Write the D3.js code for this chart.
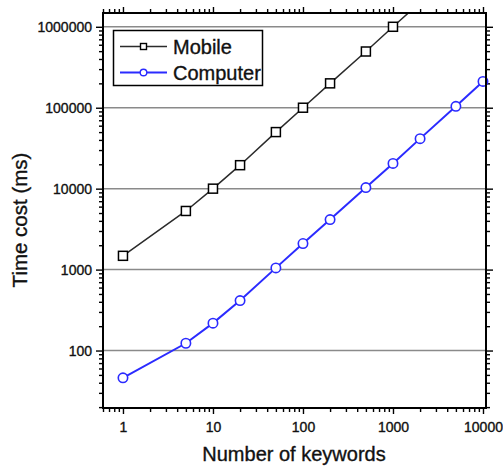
<!DOCTYPE html>
<html>
<head>
<meta charset="utf-8">
<script src="https://cdn.jsdelivr.net/npm/d3@7"></script>
<style>
  html, body { margin: 0; padding: 0; background: #fff; }
  svg { display: block; font-family: "Liberation Sans", Arial, sans-serif; }
  svg text { stroke: #111; stroke-width: 0.35px; paint-order: stroke; }
</style>
</head>
<body>
<svg id="chart" width="503" height="469"></svg>
<script>
// Number of keywords on the x axis
const keywords = [1, 5, 10, 20, 50, 100, 200, 500, 1000, 2000, 5000, 10000];
// Time cost (ms) per platform
const mobileTime = [1480, 5300, 10000, 19500, 50000, 100000, 200000, 495000, 1000000, 2000000, 5000000, 10000000];
const computerTime = [46, 123, 218, 414, 1050, 2100, 4150, 10300, 20500, 41500, 104000, 211000];
const seriesNames = ["Mobile", "Computer"];
const xTickLabels = ["1", "10", "100", "1000", "10000"];
const yTickLabels = ["100", "1000", "10000", "100000", "1000000"];

const svg = d3.select("#chart");
const plotL = 103, plotR = 486, plotT = 13, plotB = 408;

const x = d3.scaleLog().domain([0.6, 10800]).range([plotL, plotR]);
const y = d3.scaleLog().domain([19.5, 1.48e6]).range([plotB, plotT]);

const xMajor = xTickLabels.map(Number);
const yMajor = yTickLabels.map(Number);
function minors(scale) {
  const [a, b] = scale.domain();
  const out = [];
  for (let e = Math.floor(Math.log10(a)); e <= Math.ceil(Math.log10(b)); e++) {
    for (let d = 2; d <= 9; d++) {
      const v = d * Math.pow(10, e);
      if (v >= a && v <= b) out.push(v);
    }
  }
  return out;
}
const xMinor = minors(x);
const yMinor = minors(y);

// horizontal grid lines at each decade
svg.append("g").selectAll("line").data(yMajor).join("line")
  .attr("x1", plotL).attr("x2", plotR)
  .attr("y1", d => y(d)).attr("y2", d => y(d))
  .attr("stroke", "#8a8a8a").attr("stroke-width", 1.5);

function styleAxis(g) {
  g.select(".domain").remove();
  g.selectAll(".tick line").attr("stroke", "#000").attr("stroke-width", 1.4);
  g.selectAll(".tick text").attr("fill", "#111").style("font-size", "14px")
    .style("font-family", "'Liberation Sans', Arial, sans-serif");
}

// bottom axis
svg.append("g").attr("transform", `translate(0,${plotB})`)
  .call(d3.axisBottom(x).tickValues(xMajor).tickSize(6).tickPadding(8)
    .tickFormat((d, i) => xTickLabels[i]))
  .call(styleAxis);
svg.append("g").attr("transform", `translate(0,${plotB})`)
  .call(d3.axisBottom(x).tickValues(xMinor).tickSize(4).tickFormat(""))
  .call(styleAxis);
// top axis
svg.append("g").attr("transform", `translate(0,${plotT})`)
  .call(d3.axisTop(x).tickValues(xMajor).tickSize(6).tickFormat(""))
  .call(styleAxis);
svg.append("g").attr("transform", `translate(0,${plotT})`)
  .call(d3.axisTop(x).tickValues(xMinor).tickSize(4).tickFormat(""))
  .call(styleAxis);
// left axis
svg.append("g").attr("transform", `translate(${plotL},0)`)
  .call(d3.axisLeft(y).tickValues(yMajor).tickSize(7).tickPadding(4)
    .tickFormat((d, i) => yTickLabels[i]))
  .call(styleAxis);
svg.append("g").attr("transform", `translate(${plotL},0)`)
  .call(d3.axisLeft(y).tickValues(yMinor).tickSize(4).tickFormat(""))
  .call(styleAxis);
// right axis
svg.append("g").attr("transform", `translate(${plotR},0)`)
  .call(d3.axisRight(y).tickValues(yMajor).tickSize(7).tickFormat(""))
  .call(styleAxis);
svg.append("g").attr("transform", `translate(${plotR},0)`)
  .call(d3.axisRight(y).tickValues(yMinor).tickSize(4).tickFormat(""))
  .call(styleAxis);

// clip the lines to the plotting area
svg.append("clipPath").attr("id", "plot-clip")
  .append("rect").attr("x", plotL).attr("y", plotT)
  .attr("width", plotR - plotL).attr("height", plotB - plotT);

const line = d3.line().x(d => x(d[0])).y(d => y(d[1]));
const mobile = keywords.map((k, i) => [k, mobileTime[i]]);
const computer = keywords.map((k, i) => [k, computerTime[i]]);
const inside = d => d[1] <= y.domain()[1] && d[1] >= y.domain()[0];

const mobileColor = "#2b2b2b", computerColor = "#2b2bff";

svg.append("path").datum(mobile).attr("clip-path", "url(#plot-clip)")
  .attr("d", line).attr("fill", "none")
  .attr("stroke", mobileColor).attr("stroke-width", 1.5);
svg.append("path").datum(computer).attr("clip-path", "url(#plot-clip)")
  .attr("d", line).attr("fill", "none")
  .attr("stroke", computerColor).attr("stroke-width", 2);

svg.append("g").selectAll("rect").data(mobile.filter(inside)).join("rect")
  .attr("x", d => x(d[0]) - 4.5).attr("y", d => y(d[1]) - 4.5)
  .attr("width", 9).attr("height", 9)
  .attr("fill", "#fff").attr("stroke", "#000").attr("stroke-width", 1.5);
svg.append("g").selectAll("circle").data(computer.filter(inside)).join("circle")
  .attr("cx", d => x(d[0])).attr("cy", d => y(d[1])).attr("r", 4.7)
  .attr("fill", "#fff").attr("stroke", computerColor).attr("stroke-width", 1.6);

// plot frame
svg.append("rect").attr("x", plotL).attr("y", plotT)
  .attr("width", plotR - plotL).attr("height", plotB - plotT)
  .attr("fill", "none").attr("stroke", "#000").attr("stroke-width", 2);

// legend
const lg = svg.append("g");
lg.append("rect").attr("x", 113.5).attr("y", 30.5).attr("width", 149).attr("height", 55)
  .attr("fill", "#fff").attr("stroke", "#000").attr("stroke-width", 1.5);
const legendRows = [
  { name: seriesNames[0], color: mobileColor, y: 46.5, marker: "square" },
  { name: seriesNames[1], color: computerColor, y: 72.5, marker: "circle" }
];
legendRows.forEach(r => {
  lg.append("line").attr("x1", 120).attr("x2", 167).attr("y1", r.y).attr("y2", r.y)
    .attr("stroke", r.color).attr("stroke-width", r.marker === "circle" ? 1.8 : 1.5);
  if (r.marker === "square") {
    lg.append("rect").attr("x", 140.5).attr("y", r.y - 3).attr("width", 6).attr("height", 6)
      .attr("fill", "#fff").attr("stroke", "#000").attr("stroke-width", 1.4);
  } else {
    lg.append("circle").attr("cx", 143.5).attr("cy", r.y).attr("r", 3.3)
      .attr("fill", "#fff").attr("stroke", r.color).attr("stroke-width", 1.4);
  }
  lg.append("text").attr("x", 173).attr("y", r.y + 7)
    .style("font-size", "20px").attr("fill", "#111").text(r.name);
});

// axis titles
svg.append("text").attr("x", 294).attr("y", 461)
  .attr("text-anchor", "middle").style("font-size", "20px").attr("fill", "#111")
  .text("Number of keywords");
svg.append("text").attr("transform", "translate(27,220) rotate(-90)")
  .attr("text-anchor", "middle").style("font-size", "20.5px").attr("fill", "#111")
  .text("Time cost (ms)");
</script>
</body>
</html>
